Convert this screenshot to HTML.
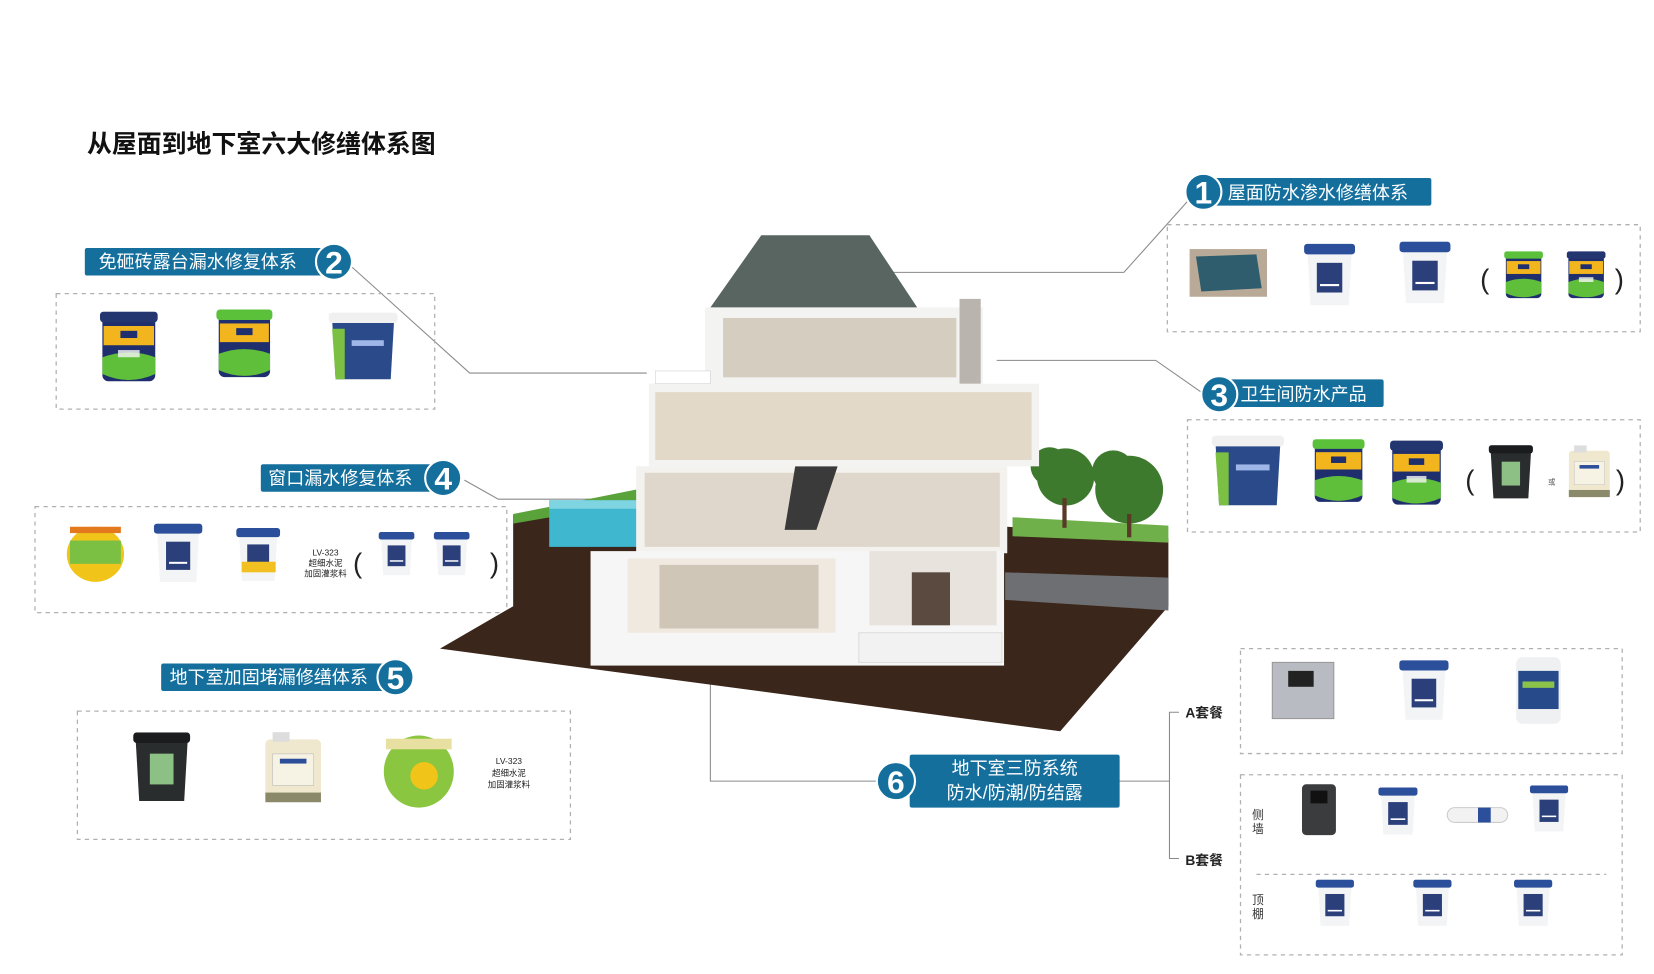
<!DOCTYPE html>
<html><head><meta charset="utf-8"><style>
html,body{margin:0;padding:0;background:#fff;width:1654px;height:974px;overflow:hidden}
svg text{font-family:"Liberation Sans","Noto Sans CJK SC",sans-serif}
</style></head><body>
<svg width="1654" height="974" viewBox="0 0 1560 919" preserveAspectRatio="none" xmlns="http://www.w3.org/2000/svg">
<defs>
<symbol id="yb" viewBox="0 0 50 60"><rect x="3" y="4" width="44" height="54" rx="5" fill="#1f2f6e"/><rect x="1" y="0" width="48" height="9" rx="3" fill="#24366f"/><rect x="4" y="12" width="42" height="16" fill="#f2b51d"/><path d="M3 38 Q25 30 47 38 L47 52 Q25 62 3 52Z" fill="#5fbf3a"/><rect x="18" y="16" width="14" height="6" fill="#1f2f6e"/><rect x="16" y="32" width="18" height="6" fill="#f6f6f6" opacity=".8"/></symbol>
<symbol id="yg" viewBox="0 0 50 60"><rect x="3" y="4" width="44" height="54" rx="5" fill="#1f2f6e"/><rect x="1" y="0" width="48" height="9" rx="3" fill="#5cc13a"/><rect x="4" y="12" width="42" height="16" fill="#f2b51d"/><path d="M3 38 Q25 30 47 38 L47 52 Q25 62 3 52Z" fill="#5fbf3a"/><rect x="18" y="16" width="14" height="6" fill="#1f2f6e"/></symbol>
<symbol id="wb" viewBox="0 0 50 60"><path d="M4 6 L46 6 L43 58 L7 58Z" fill="#f3f4f5"/><rect x="1" y="0" width="48" height="10" rx="3" fill="#2b4f9a"/><rect x="13" y="18" width="24" height="28" fill="#2b3f7a"/><rect x="16" y="38" width="18" height="2" fill="#fff"/></symbol>
<symbol id="nb" viewBox="0 0 60 60"><path d="M3 6 L57 6 L54 58 L6 58Z" fill="#2a4a8a"/><rect x="0" y="0" width="60" height="9" rx="3" fill="#f0f0f0"/><path d="M3 14 L14 14 L14 58 L6 58Z" fill="#7cc043"/><rect x="20" y="24" width="28" height="5" fill="#9fb6e8"/></symbol>
<symbol id="bk" viewBox="0 0 50 60"><path d="M3 6 L47 6 L44 58 L6 58Z" fill="#2a2d2e"/><rect x="1" y="0" width="48" height="9" rx="3" fill="#1a1c1d"/><rect x="15" y="18" width="20" height="26" fill="#8cc084"/></symbol>
<symbol id="jc" viewBox="0 0 50 60"><rect x="2" y="6" width="46" height="52" rx="4" fill="#efe8cf"/><rect x="8" y="0" width="14" height="8" fill="#ddd"/><rect x="8" y="18" width="34" height="26" fill="#f7f3e4" stroke="#bbb" stroke-width=".5"/><rect x="14" y="22" width="22" height="4" fill="#2c4d9a"/><rect x="2" y="50" width="46" height="8" fill="#8a8a6a"/></symbol>
</defs>

<text x="82" y="144" font-size="23.5" font-weight="bold" fill="#111">从屋面到地下室六大修缮体系图</text>

<g stroke="#8a8a8a" stroke-width="1" fill="none">
<polyline points="825,257 1060,257 1120,190"/>
<polyline points="332,252 443,352 610,352"/>
<polyline points="940,340 1090,340 1133,370"/>
<polyline points="438,453 470,471 560,471"/>
<polyline points="560,565 522,565 480,592"/>
<polyline points="670,645 670,737 828,737"/>
<polyline points="1055,737 1103,737"/>
<polyline points="1112,672 1103,672 1103,810 1112,810"/>
</g>

<g stroke="#b0b0b0" stroke-width="1.2" stroke-dasharray="4,4" fill="none">
<rect x="1101" y="212" width="446" height="101"/>
<rect x="53" y="277" width="357" height="109"/>
<rect x="1120" y="396" width="427" height="106"/>
<rect x="33" y="478" width="445" height="100"/>
<rect x="73" y="671" width="465" height="121"/>
<rect x="1170" y="612" width="360" height="99"/>
<rect x="1170" y="731" width="360" height="170"/>
<line x1="1185" y1="825" x2="1515" y2="825"/>
</g>

<polygon points="484,486 600,474 965,498 1102,508 1102,572 1000,690 415,612 484,572" fill="#3b261b"/>
<polygon points="955,488 1102,496 1102,512 955,506" fill="#6fb04a"/>
<polygon points="948,540 1102,545 1102,576 948,566" fill="#6d6f72"/>
<polygon points="484,485 600,462 612,472 484,494" fill="#5aa23a"/>
<rect x="518" y="472" width="86" height="44" fill="#3fb8cf"/>
<rect x="518" y="472" width="86" height="8" fill="#7fd4e2"/>
<g fill="#3e7a2d"><circle cx="1005" cy="450" r="27"/><circle cx="990" cy="440" r="18"/><circle cx="1065" cy="462" r="32"/><circle cx="1050" cy="445" r="20"/></g>
<g fill="#5a3a26"><rect x="1002" y="470" width="4" height="28"/><rect x="1063" y="485" width="4" height="22"/></g>
<polygon points="668,293 718,222 820,222 867,293" fill="#596560"/>
<rect x="665" y="290" width="262" height="72" fill="#f3f3f2"/>
<rect x="682" y="300" width="220" height="56" fill="#d6cdc1"/>
<rect x="612" y="362" width="368" height="78" fill="#f3f3f2"/>
<rect x="618" y="370" width="355" height="64" fill="#e3d9c8"/>
<rect x="618" y="350" width="52" height="12" fill="#fff" stroke="#ccc" stroke-width=".5"/>
<rect x="600" y="440" width="350" height="82" fill="#f4f2ef"/>
<rect x="608" y="446" width="335" height="70" fill="#dfd7cb"/>
<polygon points="750,440 790,440 770,500 740,500" fill="#3a3a3a"/>
<rect x="557" y="520" width="390" height="108" fill="#f6f6f6"/>
<rect x="592" y="527" width="196" height="70" fill="#efe9e0"/>
<rect x="622" y="533" width="150" height="60" fill="#cfc6b8"/>
<rect x="820" y="520" width="120" height="70" fill="#e8e3dc"/>
<rect x="860" y="540" width="36" height="50" fill="#5a4a40"/>
<rect x="810" y="597" width="135" height="28" fill="#f2f2f2" stroke="#ddd"/>
<rect x="905" y="282" width="20" height="80" fill="#b9b5ae"/>

<g fill="#146f9d">
<rect x="1140" y="168" width="210" height="26" rx="2"/><circle cx="1135" cy="181" r="17" stroke="#fff" stroke-width="2"/>
<rect x="80" y="234" width="240" height="26" rx="2"/><circle cx="315" cy="247" r="17" stroke="#fff" stroke-width="2"/>
<rect x="1155" y="358" width="150" height="26" rx="2"/><circle cx="1150" cy="372" r="17" stroke="#fff" stroke-width="2"/>
<rect x="246" y="438" width="170" height="26" rx="2"/><circle cx="418" cy="451" r="17" stroke="#fff" stroke-width="2"/>
<rect x="152" y="626" width="218" height="26" rx="2"/><circle cx="373" cy="639" r="17" stroke="#fff" stroke-width="2"/>
<rect x="858" y="712" width="198" height="50" rx="2"/><circle cx="845" cy="737" r="18" stroke="#fff" stroke-width="2"/>
</g>
<g fill="#fff" font-weight="bold">
<text x="1135" y="192" font-size="30" text-anchor="middle">1</text>
<text x="315" y="258" font-size="30" text-anchor="middle">2</text>
<text x="1150" y="383" font-size="30" text-anchor="middle">3</text>
<text x="418" y="462" font-size="30" text-anchor="middle">4</text>
<text x="373" y="650" font-size="30" text-anchor="middle">5</text>
<text x="845" y="748" font-size="30" text-anchor="middle">6</text>
<g font-weight="normal" font-size="17">
<text x="1158" y="188">屋面防水渗水修缮体系</text>
<text x="93" y="253">免砸砖露台漏水修复体系</text>
<text x="1170" y="378">卫生间防水产品</text>
<text x="253" y="457">窗口漏水修复体系</text>
<text x="160" y="645">地下室加固堵漏修缮体系</text>
<text x="957" y="731" text-anchor="middle">地下室三防系统</text>
<text x="957" y="754" text-anchor="middle">防水/防潮/防结露</text>
</g></g>

<rect x="1122" y="235" width="73" height="45" fill="#b9aa98"/><polygon points="1128,242 1185,240 1190,272 1133,275" fill="#2f5d6e"/>
<use href="#wb" x="1225" y="230" width="58" height="60"/>
<use href="#wb" x="1315" y="228" width="58" height="60"/>
<use href="#yg" x="1418" y="236" width="38" height="48"/>
<use href="#yb" x="1477" y="236" width="38" height="48"/>
<g font-size="26" fill="#222"><text x="1396" y="272">(</text><text x="1523" y="272">)</text>
<text x="1382" y="462">(</text><text x="1524" y="462">)</text>
<text x="333" y="540">(</text><text x="462" y="540">)</text></g>
<use href="#yb" x="93" y="294" width="57" height="68"/>
<use href="#yg" x="203" y="291" width="55" height="68"/>
<use href="#nb" x="310" y="295" width="65" height="65"/>
<use href="#nb" x="1143" y="411" width="68" height="68"/>
<use href="#yg" x="1237" y="412" width="51" height="66"/>
<use href="#yb" x="1310" y="414" width="52" height="66"/>
<use href="#bk" x="1400" y="420" width="50" height="52"/>
<text x="1460" y="457" font-size="7" fill="#555">或</text>
<use href="#jc" x="1478" y="418" width="42" height="55"/>
<ellipse cx="90" cy="523" rx="27" ry="26" fill="#f0c419"/><rect x="66" y="510" width="48" height="22" fill="#7cc043"/><rect x="66" y="497" width="48" height="6" fill="#e3791c"/>
<use href="#wb" x="140" y="494" width="56" height="57"/>
<use href="#wb" x="222" y="497" width="43" height="54"/>
<rect x="228" y="530" width="32" height="10" fill="#f2c021"/>
<g font-size="8" fill="#222" text-anchor="middle"><text x="307" y="524">LV-323</text><text x="307" y="534">超细水泥</text><text x="307" y="544">加固灌浆料</text>
<text x="480" y="721">LV-323</text><text x="480" y="732">超细水泥</text><text x="480" y="743">加固灌浆料</text></g>
<use href="#wb" x="354" y="502" width="40" height="42"/>
<use href="#wb" x="405" y="502" width="42" height="42"/>
<use href="#bk" x="118" y="691" width="69" height="67"/>
<use href="#jc" x="248" y="688" width="57" height="74"/>
<ellipse cx="395" cy="728" rx="33" ry="34" fill="#8ac63f"/><rect x="364" y="697" width="62" height="10" fill="#e8e0a0"/><circle cx="400" cy="732" r="13" fill="#f0c419"/>
<g font-size="13" font-weight="bold" fill="#222"><text x="1118" y="677">A套餐</text><text x="1118" y="816">B套餐</text></g>
<g font-size="11" fill="#333"><text x="1181" y="773">侧</text><text x="1181" y="786">墙</text><text x="1181" y="853">顶</text><text x="1181" y="866">棚</text></g>
<rect x="1200" y="625" width="58" height="53" fill="#b8bcc2" stroke="#999"/><rect x="1215" y="633" width="24" height="15" fill="#222"/>
<use href="#wb" x="1313" y="623" width="60" height="58"/>
<rect x="1430" y="620" width="42" height="63" rx="6" fill="#eef0f2"/><rect x="1432" y="633" width="38" height="36" fill="#264a8a"/><rect x="1436" y="643" width="30" height="6" fill="#8bc34a"/>
<rect x="1228" y="740" width="32" height="48" rx="4" fill="#3a3c3e"/><rect x="1236" y="746" width="16" height="12" fill="#111"/>
<use href="#wb" x="1297" y="743" width="43" height="46"/>
<rect x="1365" y="762" width="57" height="14" rx="7" fill="#f2f2f2" stroke="#ccc"/><rect x="1394" y="762" width="12" height="14" fill="#2b4f9a"/>
<use href="#wb" x="1440" y="741" width="42" height="45"/>
<use href="#wb" x="1238" y="830" width="42" height="45"/>
<use href="#wb" x="1330" y="830" width="42" height="45"/>
<use href="#wb" x="1425" y="830" width="42" height="45"/>
</svg>
</body></html>
